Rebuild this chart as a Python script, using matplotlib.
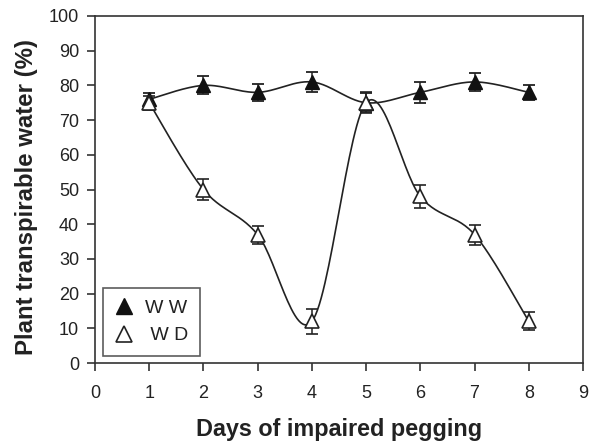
import numpy as np
import matplotlib
matplotlib.use("Agg")
import matplotlib.pyplot as plt
from matplotlib.lines import Line2D

days = [1, 2, 3, 4, 5, 6, 7, 8]
ww = [76, 80, 78, 81, 75, 78, 81, 78]
ww_err = [1.8, 2.6, 2.5, 2.9, 2.8, 3.0, 2.6, 2.2]
wd = [75, 50, 37, 12, 75, 48, 37, 12]
wd_err = [2.0, 3.0, 2.6, 3.5, 3.0, 3.2, 2.9, 2.6]
xticks = list(range(0, 10))
yticks = list(range(0, 101, 10))

plt.rcParams['font.family'] = ['Liberation Sans', 'DejaVu Sans']


def smooth(x, y, n=30):
    x = np.asarray(x, float)
    y = np.asarray(y, float)
    px = np.concatenate([[x[0]], x, [x[-1]]])
    py = np.concatenate([[y[0]], y, [y[-1]]])
    xs, ys = [], []
    for i in range(1, len(px) - 2):
        p0 = np.array([px[i], py[i]])
        p3 = np.array([px[i + 1], py[i + 1]])
        c1 = p0 + (np.array([px[i + 1], py[i + 1]]) - np.array([px[i - 1], py[i - 1]])) / 6
        c2 = p3 - (np.array([px[i + 2], py[i + 2]]) - np.array([px[i], py[i]])) / 6
        t = np.linspace(0, 1, n)[:, None]
        pts = ((1 - t) ** 3) * p0 + 3 * ((1 - t) ** 2) * t * c1 + 3 * (1 - t) * t ** 2 * c2 + t ** 3 * p3
        xs.extend(pts[:, 0]); ys.extend(pts[:, 1])
    return np.array(xs), np.array(ys)


fig = plt.figure(figsize=(5.98, 4.43), dpi=100)
ax = fig.add_axes([95 / 598, (443 - 363) / 443, 488 / 598, 347 / 443])

sx, sy = smooth(days, ww)
ax.plot(sx, sy, color='#222222', lw=1.2, zorder=2)
sx, sy = smooth(days, wd)
ax.plot(sx, sy, color='#222222', lw=1.2, zorder=2)

ax.errorbar(days, ww, yerr=ww_err, fmt='^', ms=9.5, mfc='#111111', mec='#111111',
            ecolor='#222222', elinewidth=1.1, capsize=4.3, capthick=1.3, zorder=3)
ax.errorbar(days, wd, yerr=wd_err, fmt='^', ms=9.5, mfc='white', mec='#222222', mew=1.2,
            ecolor='#222222', elinewidth=1.1, capsize=4.3, capthick=1.3, zorder=4)

ax.set_xlim(0, 9)
ax.set_ylim(0, 100)
ax.set_xticks(xticks)
ax.set_yticks(yticks)
ax.tick_params(direction='out', length=5.5, width=1.1, labelsize=13, color='#222222', labelcolor='#222222')
ax.tick_params(axis='x', pad=10.5)
ax.tick_params(axis='y', pad=6)
for s in ax.spines.values():
    s.set_linewidth(1.2)
    s.set_color('#333333')

ax.set_xlabel('Days of impaired pegging', fontsize=16.8, fontweight='bold', labelpad=11.5, color='#222222')
ax.set_ylabel('Plant transpirable water (%)', fontsize=17.3, fontweight='bold', color='#222222')
ax.yaxis.set_label_coords(-0.117, 0.478)

h = [Line2D([], [], marker='^', ls='', ms=11, mfc='#111111', mec='#111111'),
     Line2D([], [], marker='^', ls='', ms=11, mfc='white', mec='#222222', mew=1.2)]
leg = ax.legend(h, ['W W', ' W D'], loc='lower left', bbox_to_anchor=(0.016, 0.02),
                frameon=True, fancybox=False, edgecolor='#333333', fontsize=14,
                borderpad=0.6, handlelength=1.0, handletextpad=0.55, labelspacing=0.5,
                borderaxespad=0)
leg.get_frame().set_linewidth(1.2)
for t in leg.get_texts():
    t.set_color('#222222')

fig.savefig('out.png', dpi=100)
